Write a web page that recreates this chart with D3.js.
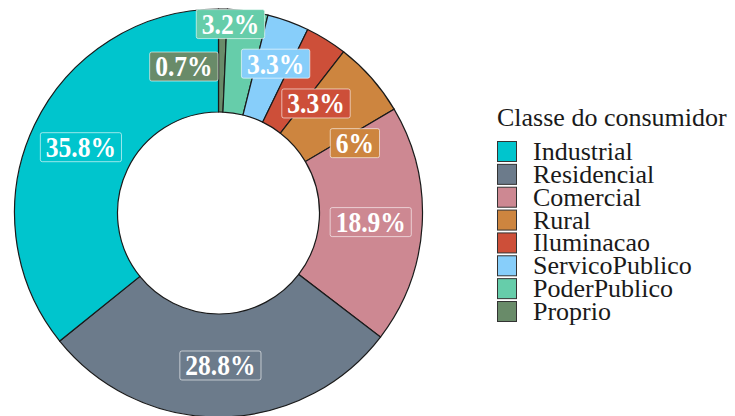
<!DOCTYPE html>
<html>
<head>
<meta charset="utf-8">
<script src="https://cdn.jsdelivr.net/npm/d3@7"></script>
<style>
  body { margin: 0; background: #fff; }
  svg { display: block; }
  text { font-family: 'Liberation Serif', 'Times New Roman', Times, 'DejaVu Serif', serif; }
</style>
</head>
<body>
<svg width="735" height="416"></svg>
<script>
// Classes in legend order
const categories = ["Industrial", "Residencial", "Comercial", "Rural", "Iluminacao", "ServicoPublico", "PoderPublico", "Proprio"];
const shares = [35.8, 28.8, 18.9, 6, 3.3, 3.3, 3.2, 0.7];
const colors = ["#00c5cd", "#6c7b8b", "#cd8892", "#cd853f", "#cd4f39", "#87cefa", "#66cdaa", "#698b69"];

// label shifts, the small slices were pushed apart in the original
const labelNudge = {
  Proprio: [-38, 6], PoderPublico: [-10, -38], ServicoPublico: [5, -6],
  Iluminacao: [17, 20], Rural: [22, 31]
};

const serif = "Liberation Serif, Times New Roman, Times, DejaVu Serif, serif";
const squeeze = 0.88; // label font in the original is a bit narrower

const svg = d3.select("svg");
const cx = 218.5, cy = 213, outerR = 204, innerR = 101;

const color = d3.scaleOrdinal().domain(categories).range(colors);

const rows = categories.map((c, i) => ({ name: c, value: shares[i] }));

// drawn clockwise from 12 o'clock, last legend entry first
const pie = d3.pie().sort(null).value(d => d.value);
const arcs = pie(rows.slice().reverse());

const arc = d3.arc().innerRadius(innerR).outerRadius(outerR);
const labelArc = d3.arc().innerRadius((innerR + outerR) / 2).outerRadius((innerR + outerR) / 2);

const g = svg.append("g").attr("transform", `translate(${cx},${cy})`);

g.selectAll("path.slice")
  .data(arcs)
  .enter().append("path")
    .attr("class", "slice")
    .attr("d", arc)
    .attr("fill", d => color(d.data.name))
    .attr("stroke", "#1a1a1a")
    .attr("stroke-width", 1.2);

// labels
const lab = g.selectAll("g.lab")
  .data(arcs)
  .enter().append("g")
    .attr("class", "lab")
    .attr("transform", d => {
      const [x, y] = labelArc.centroid(d);
      const n = labelNudge[d.data.name] || [0, 0];
      return `translate(${x + n[0]},${y + n[1]})`;
    });

lab.append("text")
    .attr("text-anchor", "middle")
    .attr("dy", "0.34em")
    .attr("transform", `scale(${squeeze},1)`)
    .attr("fill", "#fff")
    .attr("font-family", serif)
    .attr("font-weight", "bold")
    .attr("font-size", 29)
    .text(d => d.data.value + "%");

lab.each(function(d) {
  const t = d3.select(this).select("text");
  const w = t.node().getComputedTextLength() * squeeze;
  d3.select(this).insert("rect", "text")
    .attr("x", -w / 2 - 5.5)
    .attr("y", -14.5)
    .attr("width", w + 11)
    .attr("height", 29)
    .attr("rx", 2)
    .attr("fill", color(d.data.name))
    .attr("stroke", "#fff")
    .attr("stroke-opacity", 0.6)
    .attr("stroke-width", 1);
});

// legend
const legend = svg.append("g").attr("transform", "translate(497,0)");

legend.append("text")
    .attr("x", 0)
    .attr("y", 126)
    .attr("font-family", serif)
    .attr("font-size", 26)
    .attr("fill", "#1a1a1a")
    .text("Classe do consumidor");

const rowY = d3.scalePoint().domain(categories).range([151.5, 311.5]);

const item = legend.selectAll("g.item")
  .data(categories)
  .enter().append("g")
    .attr("class", "item")
    .attr("transform", d => `translate(0,${rowY(d)})`);

item.append("rect")
    .attr("x", 0.5)
    .attr("y", -10)
    .attr("width", 19)
    .attr("height", 20)
    .attr("fill", d => color(d))
    .attr("stroke", "#333")
    .attr("stroke-width", 1);

item.append("text")
    .attr("x", 36)
    .attr("y", 8.5)
    .attr("font-family", serif)
    .attr("font-size", 26)
    .attr("fill", "#1a1a1a")
    .text(d => d);
</script>
</body>
</html>
